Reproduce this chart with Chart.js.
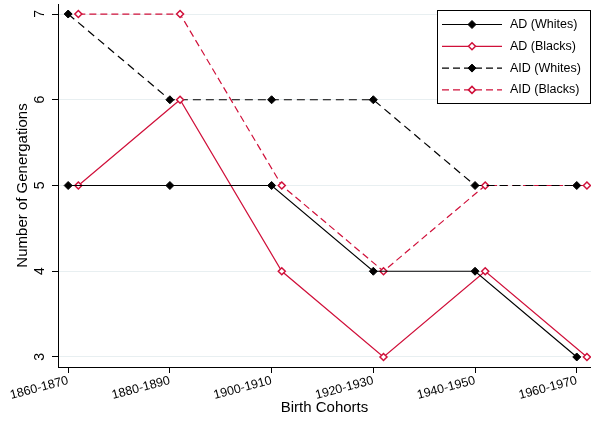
<!DOCTYPE html>
<html><head><meta charset="utf-8">
<script src="https://cdn.jsdelivr.net/npm/chart.js@4"></script>
<style>html,body{margin:0;padding:0;background:#fff}#wrap{width:591px;height:421px}</style>
</head><body><div id="wrap"><canvas id="c" width="591" height="421"></canvas></div>
<script>
// ---- data ----
const cohorts = ['1860-1870','1880-1890','1900-1910','1920-1930','1940-1950','1960-1970'];
const yTickValues = [3,4,5,6,7];
const adWhites  = [5,5,5,4,4,3];
const adBlacks  = [5,6,4,3,4,3];
const aidWhites = [7,6,6,6,5,5];
const aidBlacks = [7,7,5,4,5,5];
const blacksShift = 0.1; // Blacks series drawn slightly to the right of each cohort

const RED = '#d0103a';
const FONT = '"Liberation Sans", Arial, Helvetica, sans-serif';

function pts(values, shift){ return values.map((v,i)=>({x:i+shift, y:v})); }

function diamond(ctx,x,y,r,fill,stroke,bw){
  ctx.beginPath();
  ctx.moveTo(x-r,y); ctx.lineTo(x,y-r); ctx.lineTo(x+r,y); ctx.lineTo(x,y+r); ctx.closePath();
  ctx.fillStyle=fill; ctx.fill();
  ctx.lineWidth=bw; ctx.strokeStyle=stroke; ctx.setLineDash([]); ctx.stroke();
}

const boxLegend = {
  id:'boxLegend',
  afterDraw(chart){
    const ctx = chart.ctx;
    const L = 437.5, T = 10.5, W = 153, H = 93;
    ctx.save();
    ctx.fillStyle='#fff'; ctx.fillRect(L,T,W,H);
    ctx.strokeStyle='#000'; ctx.lineWidth=1; ctx.setLineDash([]); ctx.strokeRect(L,T,W,H);
    chart.data.datasets.forEach((ds,i)=>{
      const y = 24.5 + i*21.8;
      ctx.beginPath(); ctx.setLineDash(ds.borderDash.length ? [7,4] : []);
      ctx.strokeStyle=ds.borderColor; ctx.lineWidth=ds.borderWidth;
      ctx.moveTo(442,y); ctx.lineTo(502,y); ctx.stroke();
      diamond(ctx,472,y,ds.pointRadius,ds.pointBackgroundColor,ds.pointBorderColor,ds.pointBorderWidth);
      ctx.fillStyle='#000'; ctx.font='12.5px '+FONT; ctx.textBaseline='middle'; ctx.textAlign='left';
      ctx.fillText(ds.label,510,y);
    });
    ctx.restore();
  }
};

function blackSeries(label, values, dash){
  return {label, data: pts(values,0), borderColor:'#000', borderWidth:1.2, borderDash:dash,
    pointStyle:'rectRot', pointRadius:4, pointBackgroundColor:'#000', pointBorderColor:'#000', pointBorderWidth:1,
    tension:0, fill:false, clip:8};
}
function redSeries(label, values, dash){
  return {label, data: pts(values,blacksShift), borderColor:RED, borderWidth:1.2, borderDash:dash,
    pointStyle:'rectRot', pointRadius:3.5, pointBackgroundColor:'#fff', pointBorderColor:RED, pointBorderWidth:1.5,
    tension:0, fill:false, clip:8};
}

new Chart(document.getElementById('c'), {
  type:'line',
  data:{ datasets:[
    blackSeries('AD (Whites)', adWhites, []),
    redSeries('AD (Blacks)', adBlacks, []),
    blackSeries('AID (Whites)', aidWhites, [8,5]),
    redSeries('AID (Blacks)', aidBlacks, [7,4])
  ]},
  options:{
    responsive:false, animation:false, devicePixelRatio:1,
    layout:{autoPadding:false, padding:{top:4,right:0,left:0,bottom:0}},
    plugins:{legend:{display:false}, tooltip:{enabled:false}},
    scales:{
      x:{
        type:'linear', min:-0.1, max:5.14,
        afterBuildTicks(s){ s.ticks = cohorts.map((c,i)=>({value:i})); },
        afterFit(s){ s.height = 54; s.paddingLeft = 0; s.paddingRight = 0; },
        ticks:{ callback:(v)=>cohorts[v], autoSkip:false, minRotation:15, maxRotation:15,
          font:{family:FONT,size:12.5}, color:'#000', padding:0 },
        grid:{ color:'rgba(0,0,0,0)', tickColor:'#000', tickLength:6, drawTicks:true },
        border:{ color:'#000', width:1 },
        title:{ display:true, text:'Birth Cohorts', font:{family:FONT,size:15}, color:'#000', padding:{top:0,bottom:4.5} }
      },
      y:{
        type:'linear', min:2.883, max:7.117,
        afterBuildTicks(s){ s.ticks = yTickValues.map(v=>({value:v})); },
        afterFit(s){ s.width = 58; s.paddingTop = 0; s.paddingBottom = 0; },
        ticks:{ minRotation:90, maxRotation:90, labelOffset:-4, padding:12,
          font:{family:FONT,size:14}, color:'#000' },
        grid:{ color:'#e8eff1', tickColor:'#000', tickLength:6, lineWidth:1 },
        border:{ color:'#000', width:1 },
        title:{ display:true, text:'Number of Genergations', font:{family:FONT,size:15}, color:'#000', padding:{top:13.5,bottom:0} }
      }
    }
  },
  plugins:[boxLegend]
});
</script></body></html>
